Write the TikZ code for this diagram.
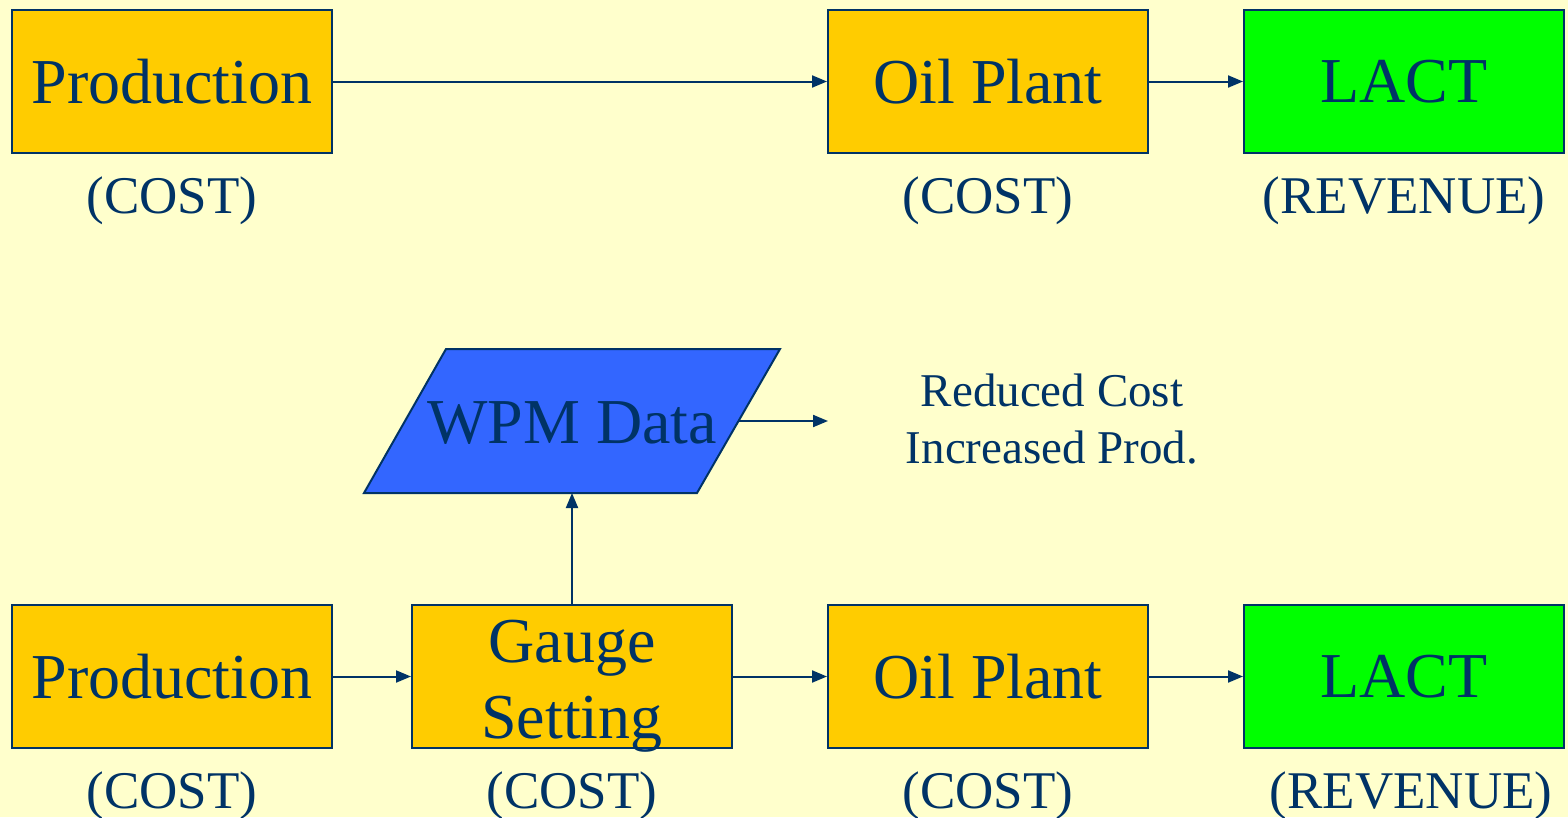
\documentclass[tikz,border=0pt]{standalone}
\usepackage{fontspec}
\setmainfont{Liberation Serif}
\usetikzlibrary{arrows.meta,calc}
\definecolor{paper}{HTML}{FFFFCC}
\definecolor{navy}{HTML}{003366}
\definecolor{gold}{HTML}{FFCC00}
\definecolor{lime}{HTML}{00FF00}
\definecolor{royal}{HTML}{3366FF}
\tikzset{
  box/.style={draw=navy, line width=2pt, fill=gold, minimum width=320pt,
    minimum height=143pt, inner sep=0pt, text=navy,
    font=\fontsize{64}{76}\selectfont},
  revbox/.style={box, fill=lime},
  tag/.style={text=navy, inner sep=0pt, font=\fontsize{53}{60}\selectfont},
  flow/.style={draw=navy, line width=2pt, -{Triangle[length=15pt,width=12pt]}},
}
\begin{document}
\begin{tikzpicture}[x=1pt, y=-1pt]
  \useasboundingbox[fill=paper] (0,0) rectangle (1568,817);

  % upper chain
  \node[box]    (prodA)  at (172,81.5)  {Production};
  \node[box]    (plantA) at (988,81.5)  {Oil Plant};
  \node[revbox] (lactA)  at (1404,81.5) {LACT};
  \node[tag] (costA1) at (172,201)  {(COST)};
  \node[tag] (costA2) at (988,201)  {(COST)};
  \node[tag] (revA)   at (1404,201) {(REVENUE)};
  \draw[flow] (prodA) -- (plantA);
  \draw[flow] (plantA) -- (lactA);

  % lower chain
  \node[box]    (prodB)  at (172,676.5)  {Production};
  \node[box]    (gauge)  at (572,676.5)  {};
  \node[text=navy, inner sep=0pt, align=center, font=\fontsize{64}{76}\selectfont,
        anchor=base] (gaugetxt) at (572,738) {Gauge\\Setting};
  \node[box]    (plantB) at (988,676.5)  {Oil Plant};
  \node[revbox] (lactB)  at (1404,676.5) {LACT};
  \node[tag] (costB1) at (172,796)  {(COST)};
  \node[tag] (costB2) at (572,796)  {(COST)};
  \node[tag] (costB3) at (988,796)  {(COST)};
  \node[tag] (revB)   at (1411,796) {(REVENUE)};
  \draw[flow] (prodB) -- (gauge);
  \draw[flow] (gauge) -- (plantB);
  \draw[flow] (plantB) -- (lactB);

  % data parallelogram
  \coordinate (wbl) at (364,493);
  \coordinate (wbr) at (697,493);
  \coordinate (wtr) at (780,349);
  \coordinate (wtl) at (446,349);
  \draw[navy, line width=2pt, fill=royal, line join=miter] (wbl) -- (wbr) -- (wtr) -- (wtl) -- cycle;
  \node[text=navy, inner sep=0pt, font=\fontsize{64}{76}\selectfont] (wpm) at (572,423) {WPM Data};
  \coordinate (wright) at ($(wbr)!0.5!(wtr)$);
  \coordinate (wbottom) at (572,493);
  \coordinate (gain) at (828,421);
  \draw[flow] (gauge.north) -- (wbottom);
  \draw[flow] (wright) -- (gain);

  \node[text=navy, inner sep=0pt, align=center, font=\fontsize{47}{57}\selectfont]
    (benefit) at (1052,419) {Reduced Cost\\Increased Prod.};
\end{tikzpicture}
\end{document}
